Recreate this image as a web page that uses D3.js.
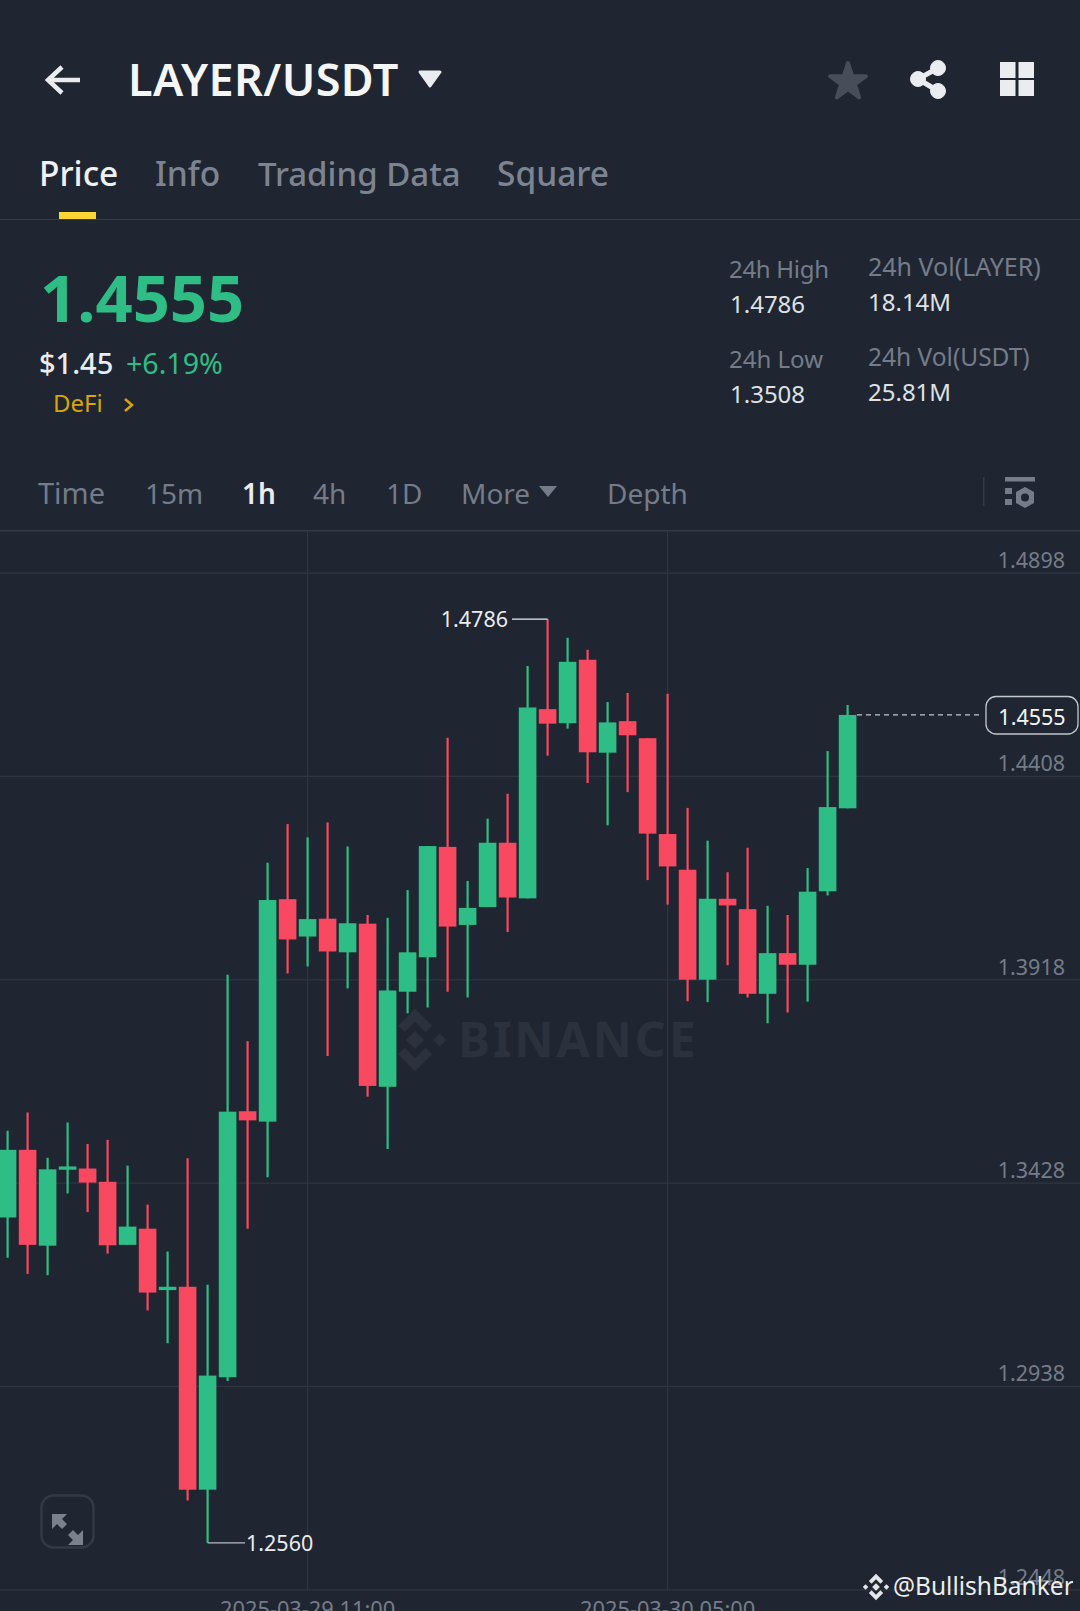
<!DOCTYPE html>
<html>
<head>
<meta charset="utf-8">
<script src="https://cdn.jsdelivr.net/npm/d3@7"></script>
<style>
  html, body { margin: 0; padding: 0; background: #1f2631; overflow: hidden; }
  text { font-family: "Noto Sans", sans-serif; }
</style>
</head>
<body>
<svg id="chart"></svg>
<script>
const categories = [
  "03-28 20:00", "03-28 21:00", "03-28 22:00", "03-28 23:00",
  "03-29 00:00", "03-29 01:00", "03-29 02:00", "03-29 03:00", "03-29 04:00", "03-29 05:00",
  "03-29 06:00", "03-29 07:00", "03-29 08:00", "03-29 09:00", "03-29 10:00", "03-29 11:00",
  "03-29 12:00", "03-29 13:00", "03-29 14:00", "03-29 15:00", "03-29 16:00", "03-29 17:00",
  "03-29 18:00", "03-29 19:00", "03-29 20:00", "03-29 21:00", "03-29 22:00", "03-29 23:00",
  "03-30 00:00", "03-30 01:00", "03-30 02:00", "03-30 03:00", "03-30 04:00", "03-30 05:00",
  "03-30 06:00", "03-30 07:00", "03-30 08:00", "03-30 09:00", "03-30 10:00", "03-30 11:00",
  "03-30 12:00", "03-30 13:00", "03-30 14:00"
];
const opens = [
  1.3344, 1.3507, 1.3276, 1.3459, 1.3462, 1.3430, 1.3278, 1.3317, 1.3169, 1.3177, 1.2688,
  1.2959, 1.3600, 1.3575, 1.4111, 1.4021, 1.4064, 1.3983, 1.4052, 1.3659, 1.3888, 1.3971,
  1.4237, 1.4049, 1.4092, 1.4247, 1.4113, 1.4569, 1.4535, 1.4688, 1.4464, 1.4540, 1.4499,
  1.4268, 1.4182, 1.3917, 1.4112, 1.4087, 1.3883, 1.3981, 1.3953, 1.4130, 1.4330
];
const highs = [
  1.3553, 1.3597, 1.3488, 1.3573, 1.3521, 1.3531, 1.3469, 1.3375, 1.3262, 1.3487, 1.3182,
  1.3929, 1.3769, 1.4199, 1.4292, 1.4260, 1.4296, 1.4238, 1.4073, 1.4066, 1.4133, 1.4239,
  1.4500, 1.4155, 1.4305, 1.4365, 1.4673, 1.4786, 1.4741, 1.4712, 1.4586, 1.4608, 1.4499,
  1.4606, 1.4331, 1.4252, 1.4176, 1.4235, 1.4095, 1.4073, 1.4186, 1.4468, 1.4579
];
const lows = [
  1.3247, 1.3208, 1.3205, 1.3402, 1.3357, 1.3257, 1.3278, 1.3120, 1.3041, 1.2662, 1.2560,
  1.2950, 1.3317, 1.3441, 1.3932, 1.3949, 1.3733, 1.3896, 1.3635, 1.3509, 1.3836, 1.3850,
  1.3888, 1.3874, 1.4092, 1.4032, 1.4113, 1.4457, 1.4522, 1.4391, 1.4289, 1.4369, 1.4157,
  1.4098, 1.3865, 1.3863, 1.3952, 1.3874, 1.3812, 1.3838, 1.3864, 1.4120, 1.4330
];
const closes = [
  1.3507, 1.3278, 1.3460, 1.3467, 1.3428, 1.3277, 1.3322, 1.3163, 1.3177, 1.2688, 1.2963,
  1.3599, 1.3578, 1.4109, 1.4014, 1.4063, 1.3985, 1.4053, 1.3661, 1.3891, 1.3983, 1.4239,
  1.4045, 1.4090, 1.4247, 1.4115, 1.4573, 1.4534, 1.4683, 1.4465, 1.4537, 1.4506, 1.4269,
  1.4190, 1.3917, 1.4112, 1.4096, 1.3883, 1.3981, 1.3953, 1.4129, 1.4333, 1.4555
];
const priceTicks = [1.4898, 1.4408, 1.3918, 1.3428, 1.2938, 1.2448];
const timeTicks = ["03-29 11:00", "03-30 05:00"];
const timeLabels = ["2025-03-29 11:00", "2025-03-30 05:00"];
const lastPrice = 1.4555;
const maxPrice = 1.4786;
const minPrice = 1.2560;

const width = 1080, height = 1611;
const green = "#2ebd85", red = "#f84960", gridColor = "#2f3642", mutedText = "#757c89";

const svg = d3.select("#chart").attr("width", width).attr("height", height)
  .style("display", "block");
svg.append("rect").attr("width", width).attr("height", height).attr("fill", "#1f2631");

function label(str, x, y, size, fill, weight, anchor) {
  return svg.append("text")
    .attr("x", x).attr("y", y)
    .attr("font-size", size)
    .attr("font-weight", weight || 400)
    .attr("text-anchor", anchor || "start")
    .attr("fill", fill)
    .text(str);
}

// top bar
svg.append("path").attr("d", "M80 80H49M62 67L48 80L62 93")
  .attr("fill", "none").attr("stroke", "#eaecef").attr("stroke-width", 4.5);
label("LAYER/USDT", 128, 96, 45, "#f5f6f7", 600).attr("letter-spacing", 0.4);
svg.append("path").attr("d", "M420 72H440L430 86Z").attr("fill", "#eaecef")
  .attr("stroke", "#eaecef").attr("stroke-width", 3).attr("stroke-linejoin", "round");
svg.append("path")
  .attr("d", d3.symbol().type(d3.symbolStar).size(400)())
  .attr("transform", "translate(848,82)")
  .attr("fill", "#474d59").attr("stroke", "#474d59").attr("stroke-width", 4).attr("stroke-linejoin", "round");
const share = svg.append("g").attr("fill", "#eaecef").attr("stroke", "#eaecef");
share.append("path").attr("d", "M938 68L918 79L938 91").attr("fill", "none").attr("stroke-width", 5);
share.append("circle").attr("cx", 938).attr("cy", 68).attr("r", 7.5);
share.append("circle").attr("cx", 918).attr("cy", 79).attr("r", 7.5);
share.append("circle").attr("cx", 938).attr("cy", 91).attr("r", 7.5);
[[1000, 62], [1018.5, 62], [1000, 80], [1018.5, 80]].forEach(c => {
  svg.append("rect").attr("x", c[0]).attr("y", c[1]).attr("width", 15.5).attr("height", 16).attr("fill", "#eaecef");
});

// tabs
label("Price", 39, 186, 33.5, "#f0f1f3", 500);
label("Info", 155, 186, 33.5, "#7d8491", 500);
label("Trading Data", 258, 186, 33, "#7d8491", 500);
label("Square", 497, 186, 33.5, "#7d8491", 500);
svg.append("rect").attr("x", 59).attr("y", 212).attr("width", 37).attr("height", 7).attr("fill", "#fcd535");
svg.append("rect").attr("x", 0).attr("y", 219).attr("width", width).attr("height", 1).attr("fill", "#343a46");

// price block
label("1.4555", 40, 322, 65, green, 700);
label("$1.45", 39, 374, 29, "#eaecef", 500);
label("+6.19%", 126, 374, 28.6, green, 400);
label("DeFi", 53, 412, 24, "#d9a30c", 400);
svg.append("path").attr("d", "M125 399L132 405L125 411").attr("fill", "none").attr("stroke", "#d9a30c").attr("stroke-width", 2.5);

label("24h High", 729, 278, 24, mutedText).attr("letter-spacing", -0.3);
label("1.4786", 730, 313, 24, "#dfe1e5");
label("24h Low", 729, 368, 24, mutedText);
label("1.3508", 730, 403, 24, "#dfe1e5");
label("24h Vol(LAYER)", 868, 276, 25, mutedText);
label("18.14M", 868, 311, 24, "#dfe1e5");
label("24h Vol(USDT)", 868, 366, 24.5, mutedText);
label("25.81M", 868, 401, 24, "#dfe1e5");

// interval row
label("Time", 38, 504, 29, mutedText);
label("15m", 145, 504, 28, mutedText);
label("1h", 242, 504, 28, "#eaecef", 600);
label("4h", 313, 504, 28, mutedText);
label("1D", 386, 504, 28, mutedText);
label("More", 461, 504, 28, mutedText);
svg.append("path").attr("d", "M539 486H557L548 497Z").attr("fill", mutedText);
label("Depth", 607, 504, 28, mutedText);
svg.append("rect").attr("x", 983).attr("y", 477).attr("width", 1.5).attr("height", 29).attr("fill", "#343a46");
const tool = svg.append("g").attr("fill", mutedText);
tool.append("rect").attr("x", 1005).attr("y", 477).attr("width", 30).attr("height", 4.5);
tool.append("rect").attr("x", 1005).attr("y", 488).attr("width", 7).attr("height", 6);
tool.append("rect").attr("x", 1005).attr("y", 499).attr("width", 7).attr("height", 6);
tool.append("path").attr("d", "M1025 487L1034 492V503L1025 508L1016 503V492Z");
tool.append("circle").attr("cx", 1025).attr("cy", 497.5).attr("r", 4).attr("fill", "#1f2631");
svg.append("rect").attr("x", 0).attr("y", 530).attr("width", width).attr("height", 1.5).attr("fill", "#343a46");

// scales
const x = d3.scalePoint().domain(categories).range([7.6, 847.6]);
const y = d3.scaleLinear().domain([priceTicks[0], priceTicks[5]]).range([572.6, 1589.3]);

// gridlines and axis labels
const timeGrid = svg.append("g");
timeGrid.selectAll("line").data(timeTicks).join("line")
  .attr("x1", d => x(d)).attr("x2", d => x(d))
  .attr("y1", 531).attr("y2", y(priceTicks[5]))
  .attr("stroke", gridColor).attr("stroke-width", 1.2);

const yAxis = svg.append("g")
  .attr("transform", `translate(${width},0)`)
  .call(d3.axisLeft(y).tickValues(priceTicks).tickFormat(d3.format(".4f")).tickSize(width).tickPadding(0));
yAxis.select(".domain").remove();
yAxis.selectAll(".tick line").attr("stroke", gridColor).attr("stroke-width", 1.2);
yAxis.selectAll(".tick text")
  .attr("x", -15).attr("y", -5).attr("dy", 0)
  .attr("text-anchor", "end")
  .attr("font-family", "'Noto Sans', sans-serif")
  .attr("font-size", 21.5)
  .attr("fill", mutedText);

svg.append("g").selectAll("text").data(timeTicks).join("text")
  .attr("x", d => x(d)).attr("y", 1617)
  .attr("text-anchor", "middle")
  .attr("font-size", 21.8)
  .attr("fill", mutedText)
  .text((d, i) => timeLabels[i]);

// watermark
const markColor = "#2b323d";
svg.append("path").attr("transform", "translate(415,1040) scale(1.3)").attr("fill", markColor)
  .attr("d", "M0 -24L13 -11L8 -6L0 -14L-8 -6L-13 -11ZM-24 0L-19 -5L-14 0L-19 5ZM24 0L19 -5L14 0L19 5ZM0 -7L7 0L0 7L-7 0ZM0 24L-13 11L-8 6L0 14L8 6L13 11Z");
label("BINANCE", 458, 1057, 48, markColor, 700).attr("letter-spacing", 3);

// candles
const candleData = categories.map((c, i) => ({
  time: c, open: opens[i], high: highs[i], low: lows[i], close: closes[i]
}));
const bodyWidth = 17.6;
const candles = svg.append("g").selectAll("g").data(candleData).join("g")
  .attr("fill", d => d.close >= d.open ? green : red)
  .attr("stroke", d => d.close >= d.open ? green : red);
candles.append("line")
  .attr("x1", d => x(d.time)).attr("x2", d => x(d.time))
  .attr("y1", d => y(d.high)).attr("y2", d => y(d.low))
  .attr("stroke-width", 2.2);
candles.append("rect")
  .attr("stroke", "none")
  .attr("x", d => x(d.time) - bodyWidth / 2)
  .attr("width", bodyWidth)
  .attr("y", d => y(Math.max(d.open, d.close)))
  .attr("height", d => Math.abs(y(d.open) - y(d.close)));

// high / low markers
const highCandle = categories[highs.indexOf(maxPrice)];
const lowCandle = categories[lows.indexOf(minPrice)];
svg.append("line").attr("x1", 512).attr("x2", x(highCandle)).attr("y1", y(maxPrice)).attr("y2", y(maxPrice))
  .attr("stroke", "#eaecef").attr("stroke-width", 1.3);
label(d3.format(".4f")(maxPrice), 508, y(maxPrice) + 8, 21.5, "#eaecef", 400, "end");
svg.append("line").attr("x1", x(lowCandle)).attr("x2", 245).attr("y1", y(minPrice)).attr("y2", y(minPrice))
  .attr("stroke", "#b7bcc4").attr("stroke-width", 1.3);
label(d3.format(".4f")(minPrice), 246, y(minPrice) + 8, 21.5, "#eaecef");

// last price
svg.append("line").attr("x1", 857).attr("x2", 983).attr("y1", y(lastPrice)).attr("y2", y(lastPrice))
  .attr("stroke", "#c4c8ce").attr("stroke-width", 1.3).attr("stroke-dasharray", "5 4");
svg.append("rect").attr("x", 986).attr("y", 696.5).attr("width", 92).attr("height", 37.5).attr("rx", 10)
  .attr("fill", "#1f2631").attr("stroke", "#c4c8ce").attr("stroke-width", 1.3);
label(d3.format(".4f")(lastPrice), 1032, 725, 21.5, "#f5f6f7", 400, "middle");

// expand button
svg.append("rect").attr("x", 41.5).attr("y", 1495.5).attr("width", 52).attr("height", 52).attr("rx", 12)
  .attr("fill", "none").attr("stroke", "#333a46").attr("stroke-width", 2.5);
svg.append("path").attr("fill", "#7a808c")
  .attr("d", "M52 1514V1529L57 1524L62 1529L67 1524L62 1519L67 1514ZM83 1545V1530L78 1535L73 1530L68 1535L73 1540L68 1545Z");

// footer credit
svg.append("path").attr("transform", "translate(876,1587) scale(0.55)").attr("fill", "#e6e7e9")
  .attr("d", "M0 -24L13 -11L8 -6L0 -14L-8 -6L-13 -11ZM-24 0L-19 -5L-14 0L-19 5ZM24 0L19 -5L14 0L19 5ZM0 -7L7 0L0 7L-7 0ZM0 24L-13 11L-8 6L0 14L8 6L13 11Z");
svg.append("clipPath").attr("id", "creditClip").append("rect").attr("x", 890).attr("y", 1560).attr("width", 183).attr("height", 50);
label("@BullishBanker", 893, 1595, 24.5, "#eceded").attr("clip-path", "url(#creditClip)");
</script>
</body>
</html>
